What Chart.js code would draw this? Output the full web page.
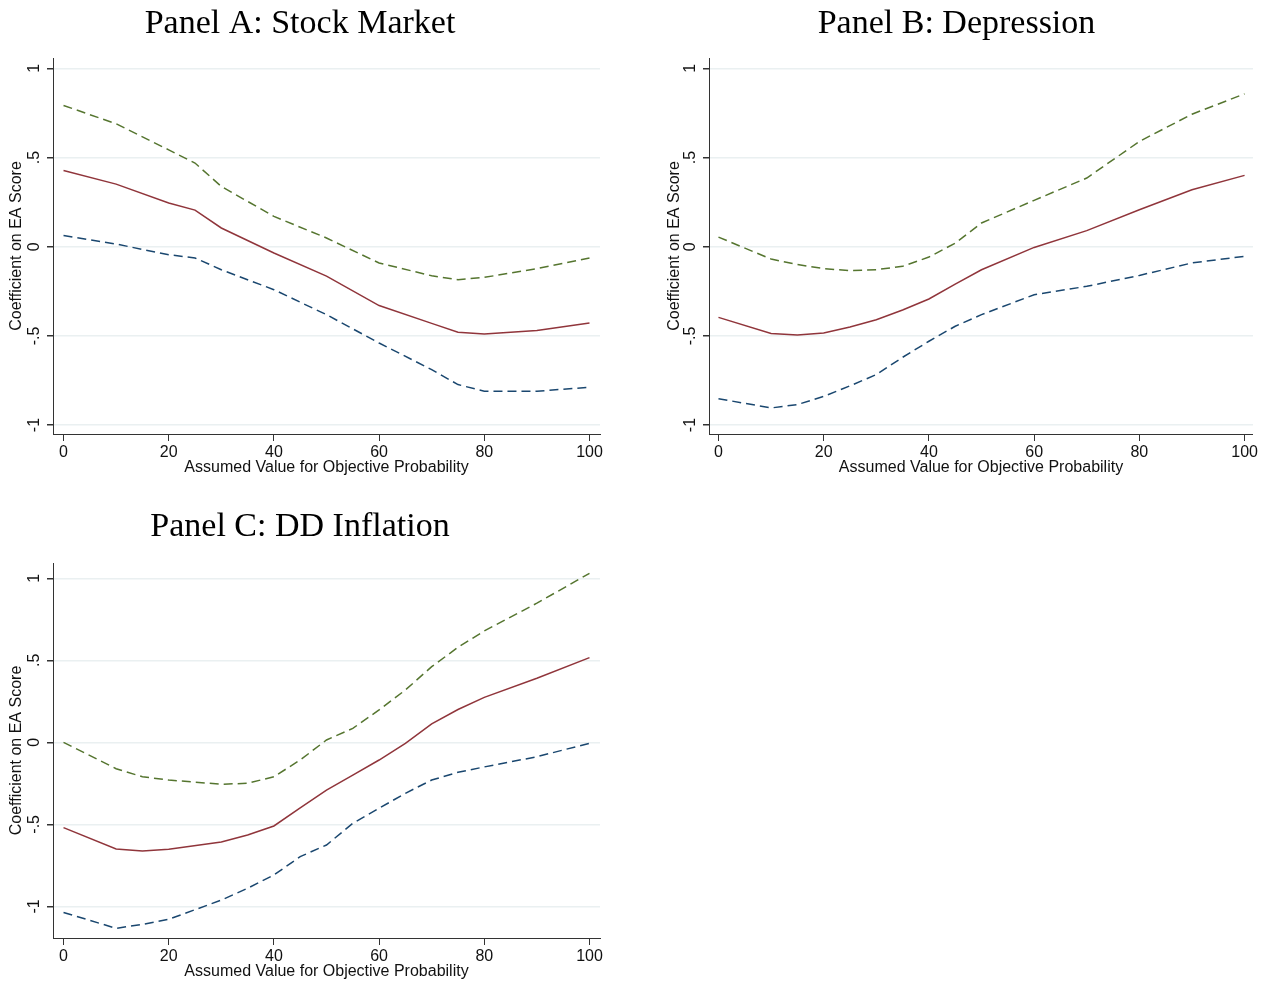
<!DOCTYPE html>
<html>
<head>
<meta charset="utf-8">
<script src="https://cdn.jsdelivr.net/npm/chart.js"></script>
<style>
  html, body { margin: 0; padding: 0; background: #fff; }
  body { width: 1274px; height: 985px; position: relative; overflow: hidden; }
  .panel { position: absolute; }
</style>
</head>
<body>
<div class="panel" id="wrapA" style="left:0px;top:0px;width:606px;height:480px"><canvas id="chartA"></canvas></div>
<div class="panel" id="wrapB" style="left:658px;top:0px;width:602px;height:480px"><canvas id="chartB"></canvas></div>
<div class="panel" id="wrapC" style="left:0px;top:503px;width:606px;height:481px"><canvas id="chartC"></canvas></div>
<script>
// Panel A: Stock Market
const xA = [0, 10, 20, 25, 30, 40, 50, 60, 70, 75, 80, 90, 100];
const estA = [0.427, 0.351, 0.245, 0.205, 0.105, -0.035, -0.165, -0.33, -0.43, -0.48, -0.489, -0.47, -0.428];
const upA = [0.792, 0.689, 0.543, 0.469, 0.338, 0.17, 0.049, -0.091, -0.163, -0.185, -0.172, -0.123, -0.063];
const loA = [0.063, 0.015, -0.045, -0.063, -0.129, -0.241, -0.381, -0.54, -0.689, -0.773, -0.81, -0.81, -0.788];

// Panel B: Depression
const xB = [0, 10, 15, 20, 25, 30, 35, 40, 45, 50, 60, 70, 80, 90, 100];
const estB = [-0.396, -0.487, -0.495, -0.484, -0.45, -0.409, -0.355, -0.293, -0.21, -0.129, -0.004, 0.09, 0.207, 0.319, 0.4];
const upB = [0.054, -0.069, -0.1, -0.123, -0.134, -0.129, -0.11, -0.058, 0.02, 0.133, 0.26, 0.385, 0.59, 0.743, 0.857];
const loB = [-0.852, -0.904, -0.885, -0.839, -0.78, -0.717, -0.62, -0.53, -0.446, -0.381, -0.269, -0.222, -0.161, -0.091, -0.054];

// Panel C: DD Inflation
const xC = [0, 10, 15, 20, 30, 35, 40, 45, 50, 55, 60, 65, 70, 75, 80, 90, 100];
const estC = [-0.52, -0.65, -0.663, -0.652, -0.608, -0.565, -0.51, -0.4, -0.291, -0.2, -0.108, -0.006, 0.112, 0.2, 0.274, 0.39, 0.516];
const upC = [0, -0.161, -0.21, -0.23, -0.256, -0.25, -0.21, -0.108, 0.014, 0.085, 0.197, 0.319, 0.461, 0.579, 0.679, 0.848, 1.03];
const loC = [-1.037, -1.134, -1.11, -1.079, -0.962, -0.89, -0.809, -0.697, -0.626, -0.494, -0.402, -0.311, -0.23, -0.183, -0.15, -0.088, -0.006];

const yTicks = [-1, -0.5, 0, 0.5, 1];
const yTickLabels = ['-1', '-.5', '0', '.5', '1'];
const xTicks = [0, 20, 40, 60, 80, 100];

const yTitle = 'Coefficient on EA Score';
const xTitle = 'Assumed Value for Objective Probability';

const MAROON = '#90353b';
const NAVY = '#1a476f';
const GREEN = '#55752f';
const AXIS = '#333333';
const SANS = '"Liberation Sans", Arial, sans-serif';
const SERIF = '"Liberation Serif", "Times New Roman", serif';

function pts(xs, ys) {
    return xs.map((x, i) => ({ x: x, y: ys[i] }));
}

// rotated y tick labels, read bottom to top like the original
const rotatedYLabels = {
    id: 'rotatedYLabels',
    afterDraw(chart) {
        const y = chart.scales.y;
        const ctx = chart.ctx;
        ctx.save();
        ctx.fillStyle = '#111';
        ctx.font = '16px ' + SANS;
        ctx.textAlign = 'center';
        ctx.textBaseline = 'middle';
        yTicks.forEach((v, i) => {
            const py = y.getPixelForValue(v);
            ctx.save();
            ctx.translate(y.right - 18, py);
            ctx.rotate(-Math.PI / 2);
            ctx.fillText(yTickLabels[i], 0, 0);
            ctx.restore();
        });
        ctx.restore();
    }
};

function makePanel(id, title, xs, est, up, lo, cfg) {
    const ctx = document.getElementById(id);
    return new Chart(ctx, {
        type: 'line',
        data: {
            datasets: [
                {
                    label: 'upper',
                    data: pts(xs, up),
                    borderColor: GREEN,
                    borderWidth: 1.5,
                    borderDash: [9, 5],
                    pointRadius: 0,
                    tension: 0
                },
                {
                    label: 'estimate',
                    data: pts(xs, est),
                    borderColor: MAROON,
                    borderWidth: 1.5,
                    pointRadius: 0,
                    tension: 0
                },
                {
                    label: 'lower',
                    data: pts(xs, lo),
                    borderColor: NAVY,
                    borderWidth: 1.5,
                    borderDash: [9, 5],
                    pointRadius: 0,
                    tension: 0
                }
            ]
        },
        options: {
            responsive: true,
            maintainAspectRatio: false,
            animation: false,
            layout: {
                padding: { left: 0, right: cfg.padRight, top: 0, bottom: 0 }
            },
            plugins: {
                legend: { display: false },
                tooltip: { enabled: false },
                title: {
                    display: true,
                    text: title,
                    color: '#000',
                    font: { family: SERIF, size: 34, weight: 'normal', lineHeight: '36px' },
                    padding: { top: 6, bottom: cfg.titleBottom }
                }
            },
            scales: {
                x: {
                    type: 'linear',
                    min: cfg.xMin,
                    max: cfg.xMax,
                    afterBuildTicks(scale) {
                        scale.ticks = xTicks.map(v => ({ value: v }));
                    },
                    afterFit(scale) {
                        scale.height = 46;
                    },
                    grid: {
                        drawOnChartArea: false,
                        drawTicks: true,
                        tickLength: 7,
                        tickColor: AXIS
                    },
                    border: { color: AXIS, width: 1 },
                    ticks: {
                        color: '#111',
                        font: { family: SANS, size: 16 },
                        padding: 2,
                        maxRotation: 0,
                        autoSkip: false
                    },
                    title: {
                        display: true,
                        text: xTitle,
                        color: '#111',
                        font: { family: SANS, size: 16, lineHeight: 1.2 },
                        padding: { top: 0, bottom: 3 }
                    }
                },
                y: {
                    type: 'linear',
                    min: cfg.yMin,
                    max: cfg.yMax,
                    afterBuildTicks(scale) {
                        scale.ticks = yTicks.map(v => ({ value: v }));
                    },
                    afterFit(scale) {
                        scale.width = cfg.yWidth;
                    },
                    grid: {
                        color: '#eaf0f1',
                        lineWidth: 1.5,
                        drawTicks: true,
                        tickLength: 6,
                        tickColor: AXIS
                    },
                    border: { color: AXIS, width: 1 },
                    ticks: {
                        display: false
                    },
                    title: {
                        display: true,
                        text: yTitle,
                        color: '#111',
                        font: { family: SANS, size: 16, lineHeight: 1.2 },
                        padding: { top: 7, bottom: 0 }
                    }
                }
            }
        },
        plugins: [rotatedYLabels]
    });
}

makePanel('chartA', 'Panel A: Stock Market', xA, estA, upA, loA,
    { xMin: -2, xMax: 102, yMin: -1.05, yMax: 1.058, yWidth: 53, padRight: 6, titleBottom: 16 });
makePanel('chartB', 'Panel B: Depression', xB, estB, upB, loB,
    { xMin: -1.8, xMax: 101.6, yMin: -1.05, yMax: 1.058, yWidth: 51, padRight: 5, titleBottom: 16 });
makePanel('chartC', 'Panel C: DD Inflation', xC, estC, upC, loC,
    { xMin: -2, xMax: 102, yMin: -1.193, yMax: 1.093, yWidth: 53, padRight: 6, titleBottom: 18 });
</script>
</body>
</html>
